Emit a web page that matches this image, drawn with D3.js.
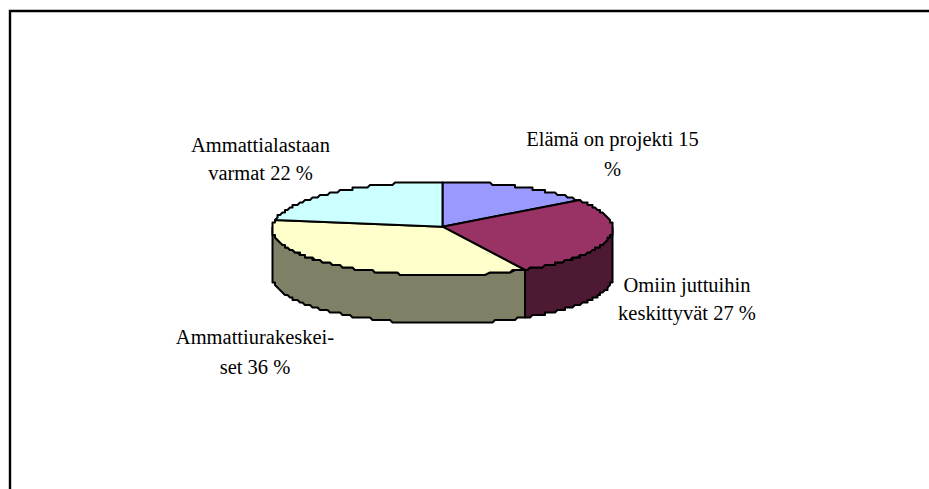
<!DOCTYPE html>
<html>
<head>
  <meta charset="utf-8">
  <title>Pie</title>
  <script src="https://d3js.org/d3.v7.min.js"></script>
  <style>
    html, body { margin: 0; padding: 0; background: #fff; overflow: hidden; }
    svg { display: block; }
    text { font-family: "Liberation Serif", serif; font-size: 20.5px; fill: #000; text-anchor: middle; }
  </style>
</head>
<body>
  <div id="chart"></div>
  <script>
    const categories = ["Elämä on projekti", "Omiin juttuihin keskittyvät", "Ammattiurakeskeiset", "Ammattialastaan varmat"];
    const values = [15, 27, 36, 22];
    const topColors = ["#9999ff", "#993366", "#ffffcc", "#ccffff"];
    const sideColors = ["#4d1933", "#4d1933", "#808066", "#66807f"];
    const labelLines = [
      ["Elämä on projekti 15", "%"],
      ["Omiin juttuihin", "keskittyvät 27 %"],
      ["Ammattiurakeskei-", "set 36 %"],
      ["Ammattialastaan", "varmat 22 %"]
    ];

    const width = 929, height = 489;
    const cx = 442.5, cy = 228.5, rx = 170, ry = 46.8, depth = 48;
    const apexY = 226.7;
    const labelPos = [[612.5, 145.5], [687, 291.5], [255, 344], [260.5, 151.5]];
    const labelGap = [30, 28.5, 30, 28.5];

    const svg = d3.select("#chart").append("svg")
      .attr("width", width)
      .attr("height", height);

    // frame, only left and top edges are in the picture
    svg.append("path")
      .attr("d", `M10,${height}V11H${width}`)
      .attr("fill", "none")
      .attr("stroke", "#000")
      .attr("stroke-width", 2.4);

    const x = d3.scaleLinear().domain([-1, 1]).range([cx - rx, cx + rx]);
    const y = d3.scaleLinear().domain([-1, 1]).range([cy - ry, cy + ry]);
    const px = a => x(Math.sin(a));
    const py = a => y(-Math.cos(a));

    const arcs = d3.pie().sort(null).value(d => d)(values);
    const line = d3.line().x(d => d[0]).y(d => d[1]);
    // the original rim is a coarse bitmap edge, so snap it to a small grid
    const snap = v => Math.round(v / 2.5) * 2.5;
    const rimPoints = (a0, a1, off) => d3.range(0, 121).map(i => {
      const a = a0 + (a1 - a0) * i / 120;
      return [snap(px(a)), snap(py(a) + off)];
    });

    // side walls: only the front half (90 to 270 degrees) is visible
    arcs.forEach((d, i) => {
      const a0 = Math.max(d.startAngle, Math.PI / 2);
      const a1 = Math.min(d.endAngle, Math.PI * 1.5);
      if (a1 <= a0) return;
      const pts = rimPoints(a0, a1, 0).concat(rimPoints(a1, a0, depth));
      svg.append("path")
        .attr("d", line(pts) + "Z")
        .attr("fill", sideColors[i])
        .attr("stroke", "#000")
        .attr("stroke-width", 2)
        .attr("stroke-linejoin", "round");
    });

    // top slices
    arcs.forEach((d, i) => {
      const pts = [[x(0), apexY]].concat(rimPoints(d.startAngle, d.endAngle, 0));
      svg.append("path")
        .attr("d", line(pts) + "Z")
        .attr("fill", topColors[i])
        .attr("stroke", "#000")
        .attr("stroke-width", 2)
        .attr("stroke-linejoin", "round");
    });

    labelLines.forEach((lines, i) => {
      const t = svg.append("text");
      lines.forEach((s, j) => {
        t.append("tspan")
          .attr("x", labelPos[i][0])
          .attr("y", labelPos[i][1] + j * labelGap[i])
          .text(s);
      });
    });
  </script>
</body>
</html>
